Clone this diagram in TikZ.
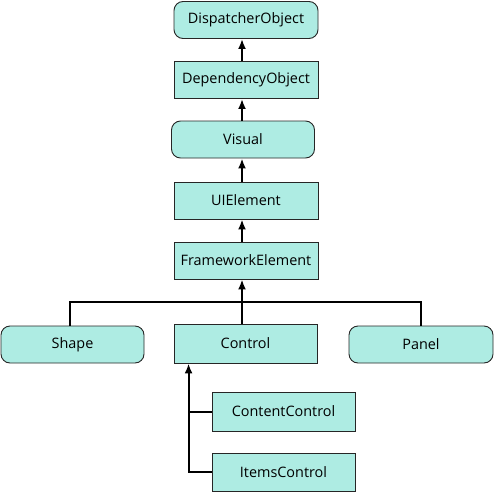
\documentclass[tikz,border=0pt]{standalone}
\usepackage{fontspec}
\setmainfont{Open Sans}
\usetikzlibrary{arrows.meta}
\usetikzlibrary{calc}
\definecolor{classfill}{RGB}{174,236,227}

\begin{document}
\begin{tikzpicture}[x=1pt,y=-1pt,
    box/.style={draw=black!85,fill=classfill,line width=0.9pt,minimum width=144pt,minimum height=37pt,inner sep=0pt,font=\fontsize{14.4}{17}\selectfont},
    rbox/.style={box,rounded corners=9pt},
    arr/.style={-{Latex[length=10pt,width=8pt]},line width=2pt},
    bus/.style={line width=2pt}]
    \useasboundingbox (0,0) rectangle (494,492);
    % main chain
    \node[rbox] (disp) at (246,20) {DispatcherObject};
    \node[box] (dep) at (246,80) {DependencyObject};
    \node[rbox,minimum width=143pt] (vis) at (243,139.5) {Visual};
    \node[box] (ui) at (246,200.5) {UIElement};
    \node[box] (fw) at (246,260.5) {FrameworkElement};
    % derived from FrameworkElement
    \node[rbox,minimum width=143pt] (shape) at (72.5,344.5) {Shape};
    \node[box,minimum width=143pt,minimum height=39pt] (ctrl) at (245.5,343.5) {Control};
    \node[rbox] (panel) at (421,344.5) {Panel};
    % derived from Control
    \node[box,minimum width=143pt,minimum height=39pt] (cc) at (283.5,411.5) {ContentControl};
    \node[box,minimum width=143pt,minimum height=38pt] (ic) at (283.5,472) {ItemsControl};
    \draw[arr] ([xshift=-4pt]dep.north) -- ([xshift=-4pt]disp.south);
    \draw[arr] ([xshift=-1pt]vis.north) -- ([xshift=-4pt]dep.south);
    \draw[arr] ([xshift=-4pt]ui.north) -- ([xshift=-1pt]vis.south);
    \draw[arr] ([xshift=-4pt]fw.north) -- ([xshift=-4pt]ui.south);
    \draw[arr] ([xshift=-3.5pt]ctrl.north) -- ([xshift=-4pt]fw.south);
    \coordinate (busy) at (0,302);
    \draw[bus] ([xshift=-2.5pt]shape.north) |- (busy -| panel.north) -- (panel.north);
    \coordinate (trunk) at ([xshift=15pt]ctrl.south west);
    \draw[arr] (ic.west) -| (trunk);
    \draw[bus] (cc.west) -- (cc.west -| trunk);
\end{tikzpicture}
\end{document}
